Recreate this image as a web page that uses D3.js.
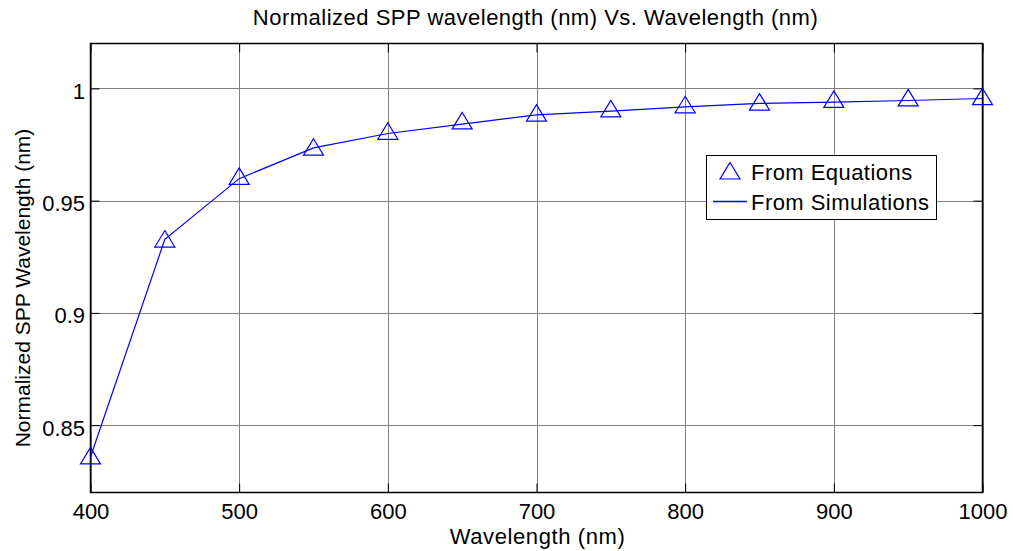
<!DOCTYPE html>
<html>
<head>
<meta charset="utf-8">
<script src="https://cdn.jsdelivr.net/npm/d3@7"></script>
<style>
  html, body { margin: 0; padding: 0; background: #fff; }
  svg { display: block; }
  text { font-family: "Liberation Sans", Arial, sans-serif; fill: #000; }
</style>
</head>
<body>
<svg id="chart" width="1013" height="551"></svg>
<script>
// ---- data ----
const wavelengths = [400, 450, 500, 550, 600, 650, 700, 750, 800, 850, 900, 950, 1000];
const fromEquations = [0.8363, 0.9329, 0.9608, 0.9738, 0.9809, 0.9855, 0.9890, 0.9909, 0.9927, 0.9939, 0.9951, 0.9958, 0.9963];
const fromSimulations = [0.8358, 0.9328, 0.9598, 0.9735, 0.9799, 0.9841, 0.9882, 0.9899, 0.9918, 0.9933, 0.9939, 0.9946, 0.9955];
const xTicks = [400, 500, 600, 700, 800, 900, 1000];
const yTicks = [0.85, 0.9, 0.95, 1];
const yTickLabels = ["0.85", "0.9", "0.95", "1"];
const seriesNames = ["From Equations", "From Simulations"];
const titleText = "Normalized SPP wavelength (nm) Vs. Wavelength (nm)";
const xLabelText = "Wavelength (nm)";
const yLabelText = "Normalized SPP Wavelength (nm)";

// ---- layout ----
const L = 90.5, R = 982.5, T = 43.5, B = 492.5;
const blue = "#0000ff";
const svg = d3.select("#chart");

const x = d3.scaleLinear().domain([400, 1000]).range([L, R]);
const y = d3.scaleLinear().domain([0.82, 1.02]).range([B, T]);

// grid
const grid = svg.append("g");
grid.selectAll("line.gx").data(xTicks).join("line")
  .attr("x1", d => Math.round(x(d)) + 0.5).attr("x2", d => Math.round(x(d)) + 0.5)
  .attr("y1", T).attr("y2", B)
  .attr("stroke", "#808080").attr("stroke-width", 1);
grid.selectAll("line.gy").data(yTicks).join("line")
  .attr("y1", d => Math.round(y(d)) + 0.5).attr("y2", d => Math.round(y(d)) + 0.5)
  .attr("x1", L).attr("x2", R)
  .attr("stroke", "#808080").attr("stroke-width", 1);

// axes (inward ticks, box)
const tickLen = 9;
const xAxisB = d3.axisBottom(x).tickValues(xTicks).tickSize(-tickLen).tickPadding(0).tickFormat(d3.format("d"));
const xAxisT = d3.axisTop(x).tickValues(xTicks).tickSize(-tickLen).tickFormat("");
const yAxisL = d3.axisLeft(y).tickValues(yTicks).tickSize(-tickLen).tickPadding(0).tickFormat((d, i) => yTickLabels[i]);
const yAxisR = d3.axisRight(y).tickValues(yTicks).tickSize(-tickLen).tickFormat("");

function styleAxis(g) {
  g.select(".domain").remove();
  g.selectAll(".tick line").attr("stroke", "#000").attr("stroke-width", 1);
  g.selectAll(".tick text").attr("font-size", 22).attr("font-family", "'Liberation Sans', Arial, sans-serif").attr("fill", "#000");
}
const gxb = svg.append("g").attr("transform", `translate(0,${B})`).call(xAxisB).call(styleAxis);
gxb.selectAll(".tick text").attr("y", 26).attr("dy", 0);
svg.append("g").attr("transform", `translate(0,${T})`).call(xAxisT).call(styleAxis);
const gyl = svg.append("g").attr("transform", `translate(${L},0)`).call(yAxisL).call(styleAxis);
gyl.selectAll(".tick text").attr("x", -5.5).attr("dy", 10);
svg.append("g").attr("transform", `translate(${R},0)`).call(yAxisR).call(styleAxis);
svg.append("rect").attr("x", L).attr("y", T).attr("width", R - L).attr("height", B - T)
  .attr("fill", "none").attr("stroke", "#000").attr("stroke-width", 1.5);

// line (simulations)
const simData = wavelengths.map((w, i) => [w, fromSimulations[i]]);
svg.append("path").datum(simData)
  .attr("d", d3.line().x(d => x(d[0])).y(d => y(d[1])))
  .attr("fill", "none").attr("stroke", blue).attr("stroke-width", 1.2);

// triangles (equations)
const triPath = (cx, cy) => `M${cx},${cy - 8.5}L${cx + 10},${cy + 8}L${cx - 10},${cy + 8}Z`;
const eqData = wavelengths.map((w, i) => [w, fromEquations[i]]);
svg.append("g").selectAll("path").data(eqData).join("path")
  .attr("d", d => triPath(x(d[0]), y(d[1])))
  .attr("fill", "none").attr("stroke", blue).attr("stroke-width", 1.2);

// title & labels
svg.append("text").attr("x", (L + R) / 2 - 1).attr("y", 25).attr("text-anchor", "middle")
  .attr("font-size", 22).attr("letter-spacing", 0.5).text(titleText);
svg.append("text").attr("x", (L + R) / 2 + 1).attr("y", 544).attr("text-anchor", "middle")
  .attr("font-size", 22).attr("letter-spacing", 0.6).text(xLabelText);
svg.append("text").attr("transform", `translate(30,288) rotate(-90)`)
  .attr("text-anchor", "middle").attr("font-size", 21).text(yLabelText);

// legend
const lg = svg.append("g");
lg.append("rect").attr("x", 706.5).attr("y", 155.5).attr("width", 230).attr("height", 64)
  .attr("fill", "#fff").attr("stroke", "#000").attr("stroke-width", 1);
lg.append("path").attr("d", triPath(730, 171)).attr("fill", "none").attr("stroke", blue).attr("stroke-width", 1.2);
lg.append("line").attr("x1", 713).attr("x2", 747).attr("y1", 201.5).attr("y2", 201.5)
  .attr("stroke", blue).attr("stroke-width", 1.3);
lg.append("text").attr("x", 751).attr("y", 180).attr("font-size", 22).attr("letter-spacing", 0.45).text(seriesNames[0]);
lg.append("text").attr("x", 751).attr("y", 210).attr("font-size", 22).attr("letter-spacing", 0.45).text(seriesNames[1]);
</script>
</body>
</html>
